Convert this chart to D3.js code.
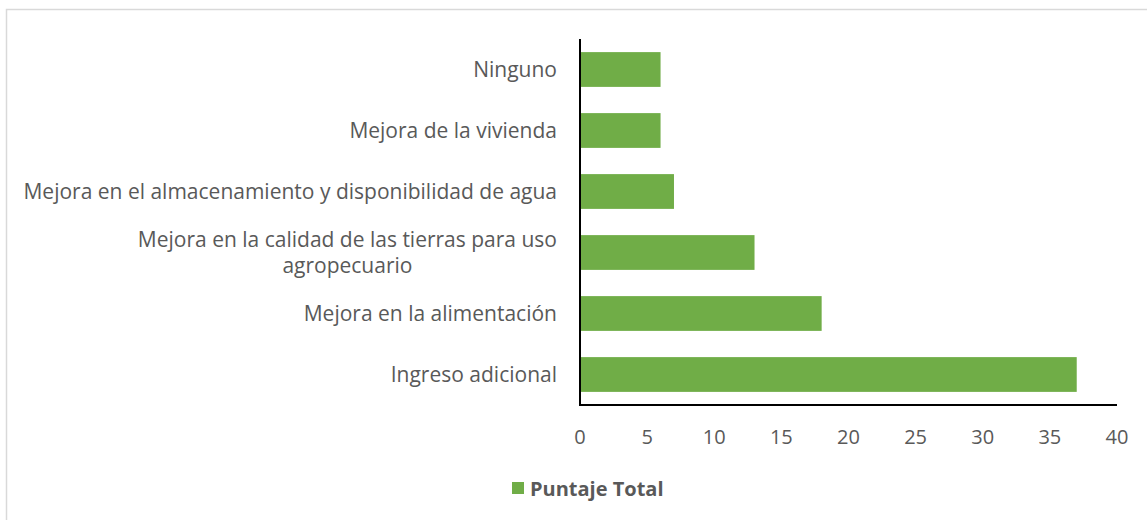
<!DOCTYPE html>
<html>
<head>
<meta charset="utf-8">
<script src="https://cdn.jsdelivr.net/npm/d3@7"></script>
<style>
  body { margin: 0; background: #fff; }
  svg { display: block; font-family: "Open Sans", sans-serif; }
</style>
</head>
<body>
<svg id="chart" width="1147" height="520"></svg>
<script>
const categories = [
  ["Ninguno"],
  ["Mejora de la vivienda"],
  ["Mejora en el almacenamiento y disponibilidad de agua"],
  ["Mejora en la calidad de las tierras para uso", "agropecuario"],
  ["Mejora en la alimentación"],
  ["Ingreso adicional"]
];
const values = [6, 6, 7, 13, 18, 37];
const xTicks = [0, 5, 10, 15, 20, 25, 30, 35, 40];
const seriesName = "Puntaje Total";

const svg = d3.select("#chart");
const barColor = "#70ad47";
const textColor = "#595959";
const labelRight = 557;

// chart frame
svg.append("rect")
  .attr("x", 6.5).attr("y", 9.5)
  .attr("width", 1147).attr("height", 520)
  .attr("fill", "none")
  .attr("stroke", "#d9d9d9")
  .attr("stroke-width", 1.5);

const x = d3.scaleLinear().domain([0, 40]).range([580, 1117]);
const y = d3.scaleBand()
  .domain(d3.range(categories.length))
  .range([39, 405])
  .paddingInner(0.43)
  .paddingOuter(0.215);

svg.append("g").selectAll("rect")
  .data(values)
  .join("rect")
  .attr("x", x(0))
  .attr("y", (d, i) => y(i))
  .attr("width", (d) => x(d) - x(0))
  .attr("height", y.bandwidth())
  .attr("fill", barColor);

// axis lines
svg.append("line")
  .attr("x1", x(0)).attr("x2", x(0))
  .attr("y1", 39).attr("y2", 405)
  .attr("stroke", "#000").attr("stroke-width", 2);
svg.append("line")
  .attr("x1", x(0) - 1).attr("x2", x(40))
  .attr("y1", 405).attr("y2", 405)
  .attr("stroke", "#000").attr("stroke-width", 2);

// x tick labels
svg.append("g").selectAll("text")
  .data(xTicks)
  .join("text")
  .attr("x", (d) => x(d))
  .attr("y", 444)
  .attr("text-anchor", "middle")
  .attr("fill", textColor)
  .attr("font-size", 20)
  .text((d) => d);

// category labels (multi-line ones are centred under their first line)
const labels = svg.append("g").selectAll("text")
  .data(categories)
  .join("text")
  .attr("fill", textColor)
  .attr("font-size", 21)
  .attr("y", (d, i) => y(i) + y.bandwidth() / 2 - (d.length - 1) * 13 + 7);

labels.each(function (d) {
  const t = d3.select(this);
  if (d.length === 1) {
    t.attr("text-anchor", "end").attr("x", labelRight).text(d[0]);
    return;
  }
  t.attr("text-anchor", "middle");
  const first = t.append("tspan").text(d[0]);
  const w = first.node().getComputedTextLength();
  const cx = labelRight - w / 2;
  t.selectAll("tspan").remove();
  t.selectAll("tspan")
    .data(d)
    .join("tspan")
    .attr("x", cx)
    .attr("dy", (s, i) => i === 0 ? 0 : 26)
    .text((s) => s);
});

// legend
svg.append("rect")
  .attr("x", 512).attr("y", 482)
  .attr("width", 12).attr("height", 12)
  .attr("fill", barColor);
svg.append("text")
  .attr("x", 530).attr("y", 496)
  .attr("fill", textColor)
  .attr("font-size", 20)
  .attr("font-weight", "bold")
  .text(seriesName);
</script>
</body>
</html>
